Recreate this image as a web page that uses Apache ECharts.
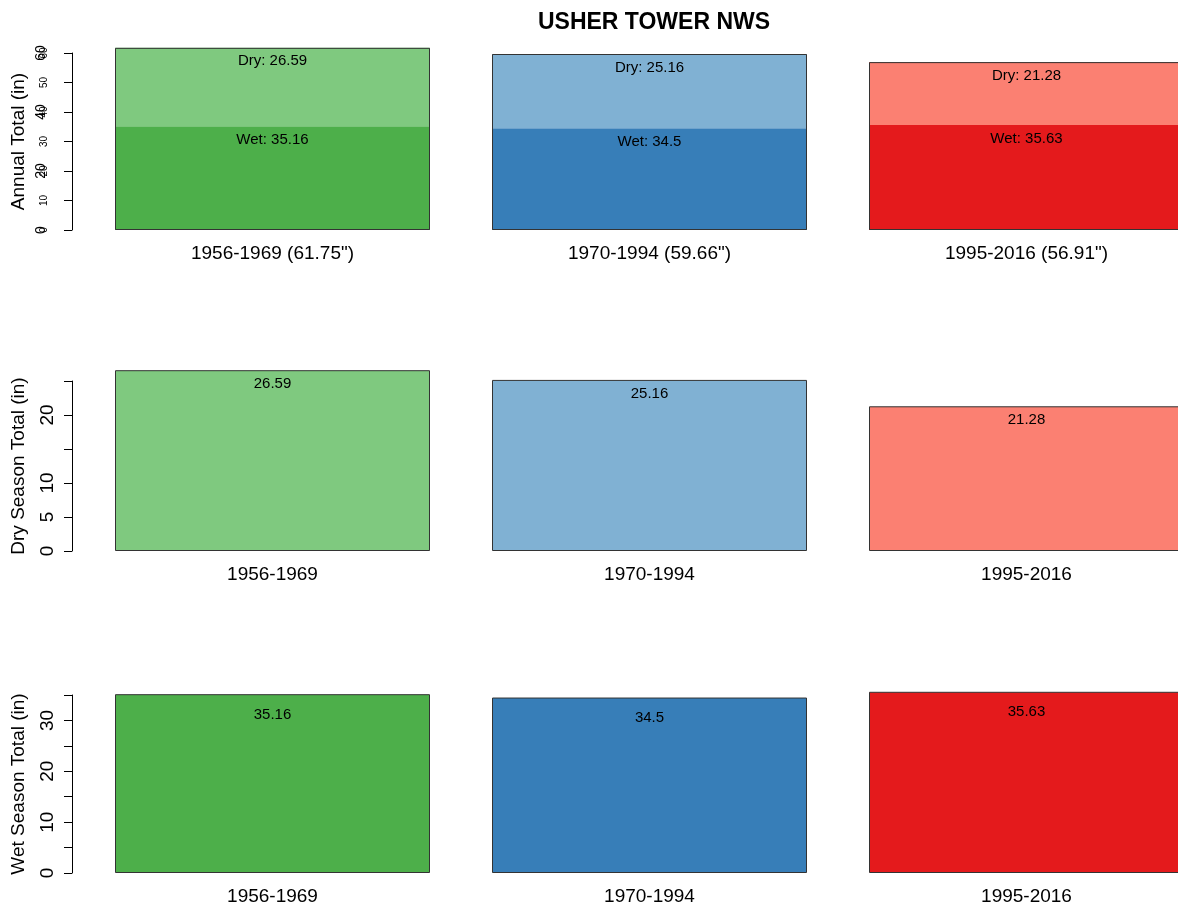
<!DOCTYPE html>
<html>
<head>
<meta charset="utf-8">
<script src="https://cdn.jsdelivr.net/npm/echarts@6/dist/echarts.min.js"></script>
<style>
  html, body { margin: 0; padding: 0; background: #fff; }
  #chart { width: 1178px; height: 909px; }
</style>
</head>
<body>
<div id="chart"></div>
<script>
// data
const periods = ["1956-1969", "1970-1994", "1995-2016"];
const dryTotals = [26.59, 25.16, 21.28];
const wetTotals = [35.16, 34.5, 35.63];

// palette (light = dry, dark = wet)
const dryColors = ["#7fc97f", "#80b1d3", "#fb8072"];
const wetColors = ["#4daf4a", "#377eb8", "#e41a1c"];

const FONT = "Liberation Sans";
const annualTotals = periods.map((p, i) => +(dryTotals[i] + wetTotals[i]).toFixed(2));
const annualLabels = periods.map((p, i) => p + " (" + annualTotals[i].toFixed(2) + "\")");

const colored = (vals, colors) =>
  vals.map((v, i) => ({ value: v, itemStyle: { color: colors[i] } }));

const gridBase = { left: 84, width: 1131, outerBoundsMode: "none", containLabel: false };

const xAxisFor = (gridIndex, data) => ({
  type: "category",
  gridIndex: gridIndex,
  data: data,
  axisLine: { show: false },
  axisTick: { show: false },
  axisLabel: { fontSize: 19, color: "#000", fontFamily: FONT, margin: 14 },
});

const yAxisFor = (gridIndex, max, name, showLabel, fontSize, margin) => ({
  type: "value",
  gridIndex: gridIndex,
  position: "left",
  min: 0,
  max: max,
  interval: 5,
  offset: 12,
  name: name,
  nameLocation: "middle",
  nameGap: 44,
  nameTextStyle: { fontSize: 19, color: "#000", fontFamily: FONT },
  splitLine: { show: false },
  axisLine: { show: true, lineStyle: { color: "#000", width: 1 } },
  axisTick: { show: true, length: 8, lineStyle: { color: "#000" } },
  axisLabel: {
    rotate: 90,
    fontSize: fontSize,
    color: "#000",
    fontFamily: FONT,
    margin: margin,
    formatter: (v) => (showLabel(v) ? String(v) : ""),
  },
});

const labelStyle = (distance, fmt) => ({
  show: true,
  position: "insideTop",
  distance: distance,
  fontSize: 15,
  color: "#000",
  fontFamily: FONT,
  formatter: fmt,
});

var myChart = echarts.init(document.getElementById("chart"));

var option = {
  animation: false,
  backgroundColor: "#fff",
  title: {
    text: "USHER TOWER NWS",
    left: 649,
    top: 6,
    textAlign: "center",
    textStyle: { fontSize: 23, fontWeight: "bold", color: "#000", fontFamily: FONT },
  },
  grid: [
    Object.assign({ top: 53, height: 177 }, gridBase),
    Object.assign({ top: 381, height: 170 }, gridBase),
    Object.assign({ top: 695, height: 178 }, gridBase),
  ],
  xAxis: [
    xAxisFor(0, annualLabels),
    xAxisFor(1, periods),
    xAxisFor(2, periods),
  ],
  yAxis: [
    // annual: small labels every 10
    Object.assign(yAxisFor(0, 60, "Annual Total (in)", () => true, 10, 23), { interval: 10 }),
    // annual: larger labels every 20, drawn over the small ones
    {
      type: "value",
      gridIndex: 0,
      position: "left",
      min: 0,
      max: 60,
      interval: 20,
      offset: 12,
      splitLine: { show: false },
      axisLine: { show: false },
      axisTick: { show: false },
      axisLabel: { rotate: 90, fontSize: 14, color: "#000", fontFamily: FONT, margin: 24 },
    },
    yAxisFor(1, 25, "Dry Season Total (in)", (v) => v !== 15 && v !== 25, 19, 15),
    yAxisFor(2, 35, "Wet Season Total (in)", (v) => v % 10 === 0, 19, 15),
  ],
  series: [
    {
      type: "bar",
      name: "Wet",
      stack: "annual",
      xAxisIndex: 0,
      yAxisIndex: 0,
      barWidth: 315,
      clip: false,
      data: colored(wetTotals, wetColors),
      label: labelStyle(6, (p) => "Wet: " + p.value),
    },
    {
      type: "bar",
      name: "Dry",
      stack: "annual",
      xAxisIndex: 0,
      yAxisIndex: 0,
      barWidth: 315,
      clip: false,
      data: colored(dryTotals, dryColors),
      label: labelStyle(6, (p) => "Dry: " + p.value),
    },
    {
      // outline round the whole stacked bar
      type: "bar",
      name: "Annual",
      xAxisIndex: 0,
      yAxisIndex: 0,
      barWidth: 315,
      barGap: "-100%",
      clip: false,
      silent: true,
      data: annualTotals,
      itemStyle: { color: "rgba(0,0,0,0)", borderColor: "#333", borderWidth: 1 },
    },
    {
      type: "bar",
      name: "Dry season",
      xAxisIndex: 1,
      yAxisIndex: 2,
      barWidth: 315,
      clip: false,
      data: colored(dryTotals, dryColors),
      itemStyle: { borderColor: "#333", borderWidth: 1 },
      label: labelStyle(6, (p) => String(p.value)),
    },
    {
      type: "bar",
      name: "Wet season",
      xAxisIndex: 2,
      yAxisIndex: 3,
      barWidth: 315,
      clip: false,
      data: colored(wetTotals, wetColors),
      itemStyle: { borderColor: "#333", borderWidth: 1 },
      label: labelStyle(13, (p) => String(p.value)),
    },
  ],
};

myChart.setOption(option);
</script>
</body>
</html>
